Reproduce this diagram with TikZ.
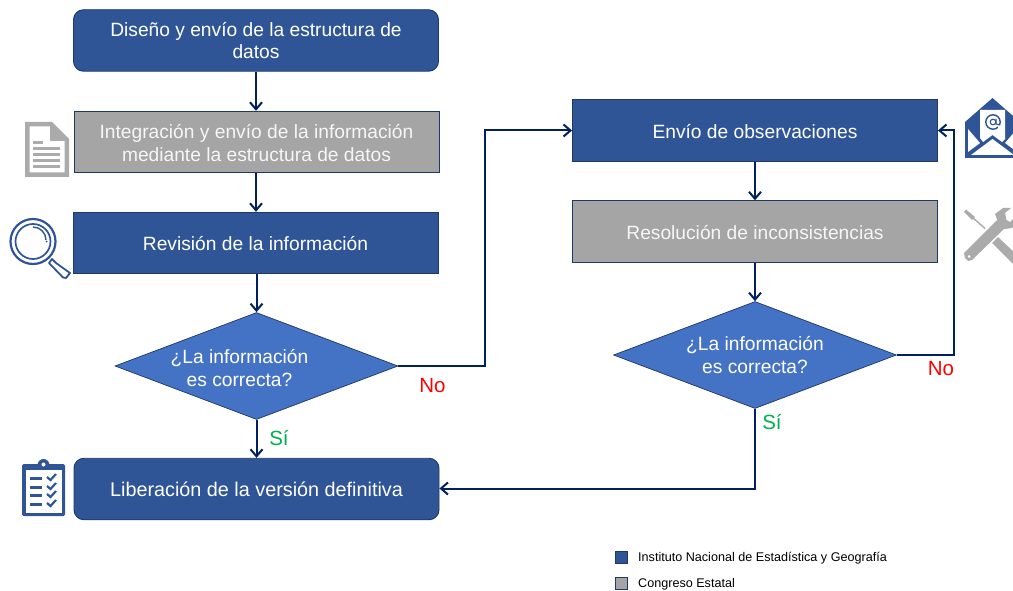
\documentclass[tikz,border=0pt]{standalone}
\usepackage{fontspec}
\setmainfont{Liberation Sans}
\usetikzlibrary{arrows.meta,shapes.geometric}
\definecolor{blueA}{HTML}{2F5597}
\definecolor{edgeA}{HTML}{1F3864}
\definecolor{grayA}{HTML}{A5A5A5}
\definecolor{diaA}{HTML}{4472C4}
\definecolor{arrowA}{HTML}{002060}
\definecolor{greenA}{HTML}{00B050}
\definecolor{iconG}{HTML}{ABABAB}
\newcommand\lowered[2][1pt]{\raisebox{-#1}[\height][\depth]{#2}}
\tikzset{
 x=1pt,y=-1pt,
 boxbase/.style={minimum width=365pt,minimum height=61.5pt,inner sep=0pt,draw=edgeA,line width=0.9pt,text=white,align=center,font=\fontsize{19.2}{23}\selectfont},
 bluebox/.style={boxbase,fill=blueA},
 roundbox/.style={boxbase,fill=blueA,rounded corners=10pt},
 graybox/.style={boxbase,fill=grayA,text=white!90!grayA},
 decision/.style={diamond,aspect=2.65,minimum width=283pt,minimum height=107pt,inner sep=0pt,fill=diaA,draw=edgeA,line width=0.7pt,text=white,align=center,font=\fontsize{19.2}{23}\selectfont},
 flow/.style={draw=arrowA,line width=2pt,-{Straight Barb[length=7pt,width=12pt,line width=2pt]}},
 ans/.style={font=\fontsize{20.5}{24}\selectfont,inner sep=0pt},
 legbox/.style={minimum width=12pt,minimum height=12pt,inner sep=0pt,draw=edgeA,line width=0.7pt},
 legtext/.style={anchor=west,inner sep=0pt,font=\fontsize{12.6}{14}\selectfont,text=black},
 icong/.style={fill=iconG,draw=none},
 iconb/.style={draw=blueA,line width=2.2pt,fill=none},
}
\begin{document}
\begin{tikzpicture}
\useasboundingbox (0,0) rectangle (1013,591);
% boxes
\node[roundbox] (a) at (256,40.5) {\lowered{Diseño y envío de la estructura de}\\datos};
\node[graybox] (b) at (256.5,142) {\lowered{Integración y envío de la información}\\\lowered{mediante la estructura de datos}};
\node[bluebox] (c) at (255.5,243) {\lowered{Revisión de la información}};
\node[decision] (d) at (256.5,366) {\hspace*{-34pt}\lowered[2pt]{¿La información}\\\hspace*{-34pt}\lowered[2pt]{es correcta?}};
\node[roundbox] (e) at (256.5,489) {{\fontsize{19.8}{23}\selectfont Liberación de la versión definitiva}};
\node[bluebox] (f) at (755,130.5) {\lowered{Envío de observaciones}};
\node[graybox] (g) at (755,231.5) {\lowered{Resolución de inconsistencias}};
\node[decision] (h) at (755,355) {¿La información\\es correcta?};
% connectors
\draw[flow] (a.south -| 256,0) -- (b.north -| 256,0);
\draw[flow] (b.south -| 256,0) -- (c.north -| 256,0);
\draw[flow] (c.south -| 256.5,0) -- (d.north);
\draw[flow] (d.south) -- (e.north -| d.south);
\coordinate (dr) at (484.5,366);
\coordinate (dt) at (484.5,130.5);
\draw[flow] (d.east) -- (dr) -- (dt) -- (f.west);
\draw[flow] (f.south) -- (g.north);
\draw[flow] (g.south) -- (h.north);
\coordinate (hb) at (755,488.5);
\draw[flow] (h.south) -- (hb) -- (e.east |- hb);
\coordinate (hr) at (954,355);
\coordinate (ht) at (954,130.5);
\draw[flow] (h.east) -- (hr) -- (ht) -- (f.east);
% answers
\node[ans,text=red] (no1) at (432.5,386) {No};
\node[ans,text=greenA] (si1) at (279,438.5) {Sí};
\node[ans,text=red] (no2) at (941,369) {No};
\node[ans,text=greenA] (si2) at (772,422.5) {Sí};
% legend
\node[legbox,fill=blueA] (l1) at (621,557) {};
\node[legbox,fill=grayA] (l2) at (621,583) {};
\node[legtext] (lt1) at (638,558) {Instituto Nacional de Estadística y Geografía};
\node[legtext] (lt2) at (638,584) {Congreso Estatal};
% document icon
\fill[icong,even odd rule] (25,122) -- (52,122) -- (69,139) -- (69,177) -- (25,177) -- cycle
 (29.5,126.5) -- (50,126.5) -- (50,141) -- (64.5,141) -- (64.5,172.5) -- (29.5,172.5) -- cycle;
\fill[icong] (52,126) -- (64,138) -- (52,138) -- cycle;
\fill[icong] (33,141) rectangle (43,144);
\foreach \yy in {147,153,159,165} \fill[icong] (33,\yy) rectangle (60,\yy+3);
% magnifier icon
\draw[iconb] (33,241.5) circle (22.5);
\draw[blueA,line width=1.7pt] (33,241.5) circle (17.5);
\draw[blueA,line width=1.4pt] (33,227) arc (-90:0:13);
\fill[blueA] (46.5,241.5) circle (1);
\draw[blueA,line width=1.8pt,line cap=round,line join=round] (52,259) -- (56,263) -- (70,273) -- (66,278) -- (63,277.5) -- (49,263) -- cycle;
% envelope icon
\fill[blueA] (965,122) -- (992.5,98) -- (1020,122) -- (1020,158) -- (965,158) -- cycle;
\fill[white] (980,110) -- (1005,110) -- (1005,139) -- (1002,142) -- (992.5,135) -- (983,142) -- (980,138) -- cycle;
\fill[white] (968,129) -- (980,143) -- (968,152) -- cycle;
\fill[white] (1017,129) -- (1005,143) -- (1017,152) -- cycle;
\fill[white] (971,155) -- (992.5,139) -- (1014,155) -- cycle;
\draw[blueA,line width=1.4pt] (993,122) circle (7.2);
\fill[white] (998,125.5) rectangle (1002,128);
\draw[blueA,line width=1.1pt] (993,122) circle (2.8);
\draw[blueA,line width=1.1pt] (996,119) -- (996,124) -- (1000,125);
% tools icon
\draw[iconG,line width=1.4pt] (972,217) -- (985,228.5);
\fill[iconG] (964,212) -- (966,209.5) -- (975,217) -- (972,220) -- cycle;
\fill[iconG] (992,243) -- (998,237) -- (1017,255) -- (1017,268) -- cycle;
\fill[iconG] (997,220) -- (1005,228) -- (972,260) -- (968,261) -- (965,258) -- (964,253) -- cycle;
\fill[iconG] (998,222) -- (995,214) -- (1003,208) -- (1011,208) -- (1005,213) -- (1006.5,220) -- (1010,222) -- (1015,217) -- (1017,224) -- (1012,228) -- (1004,229) -- cycle;
\fill[white] (969,256.5) circle (1.5);
% clipboard icon
\fill[blueA,rounded corners=1.5pt] (22,464) rectangle (65,516);
\fill[blueA] (43.5,465) circle (6);
\fill[blueA] (34,464) rectangle (53,470);
\fill[white] (43.5,464.5) circle (2);
\fill[white] (25.5,470) rectangle (61.5,513);
\foreach \yy in {478,487,495,504} {
 \fill[blueA] (30,\yy-1.5) rectangle (42,\yy+1.5);
 \draw[blueA,line width=2.2pt] (47,\yy-1) -- (50.5,\yy+2) -- (56,\yy-4);
}
\end{tikzpicture}
\end{document}
